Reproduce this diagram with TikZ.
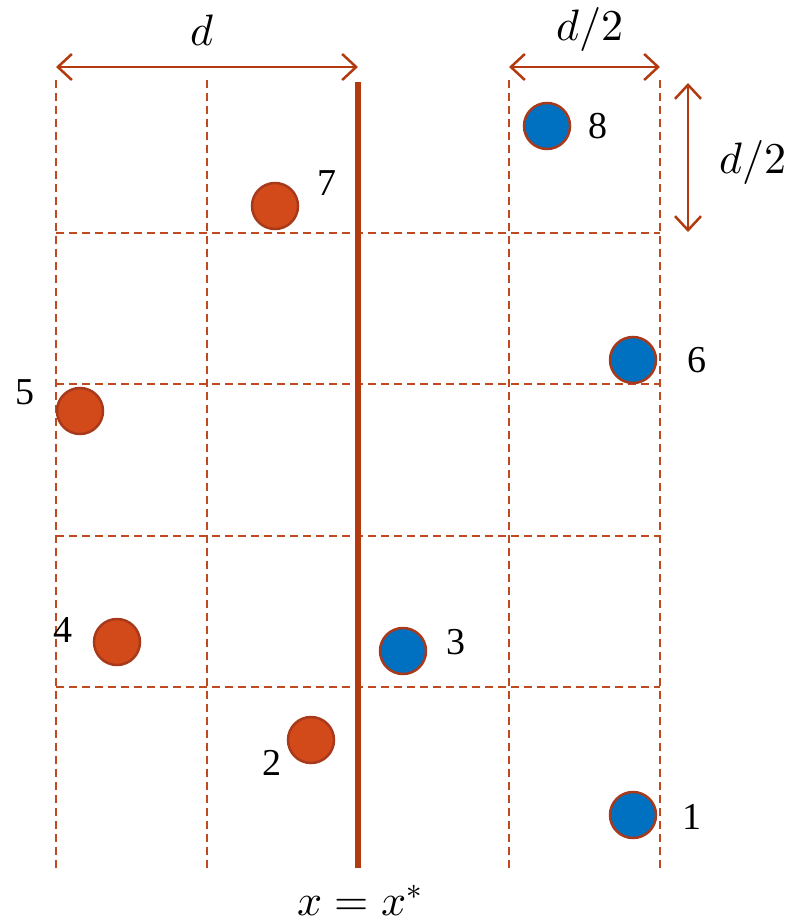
\documentclass[tikz,border=0pt]{standalone}
\usepackage{fontspec}
\usepackage{unicode-math}
\setmainfont{Liberation Serif}
\setmathfont{Latin Modern Math}
\usetikzlibrary{arrows.meta}
\definecolor{gridred}{HTML}{C04A20}
\definecolor{axisred}{HTML}{B33A0E}
\definecolor{ptred}{HTML}{D24A1A}
\definecolor{ptedge}{HTML}{A8391A}
\definecolor{ptblue}{HTML}{0070C0}
\tikzset{
  gridline/.style={draw=gridred, line width=1.6pt, dash pattern=on 8pt off 5pt},
  redpt/.style={circle, minimum size=46pt, inner sep=0pt, fill=ptred, draw=ptedge, line width=2.5pt},
  bluept/.style={circle, minimum size=46pt, inner sep=0pt, fill=ptblue, draw=ptedge, line width=2.5pt},
  lbl/.style={font=\fontsize{38}{44}\selectfont, inner sep=0pt},
  mlbl/.style={font=\fontsize{44}{50}\selectfont, inner sep=0pt},
  dimarrow/.style={draw=axisred, line width=2.5pt, {Straight Barb[length=14pt,width=26pt,line width=2.5pt]}-{Straight Barb[length=14pt,width=26pt,line width=2.5pt]}}
}
\begin{document}
\begin{tikzpicture}[x=1pt,y=-1pt]
\useasboundingbox (0,0) rectangle (798,923);
% vertical dashed lines
\foreach \x in {56,207,509,660} \draw[gridline] (\x,80) -- (\x,868);
% horizontal dashed lines
\foreach \y in {233,384,536,687} \draw[gridline] (56,\y) -- (660,\y);
% thick axis
\coordinate (axt) at (358,82);
\coordinate (axb) at (358,868);
\draw[draw=axisred, line width=5.5pt] (axt) -- (axb);
\node[mlbl] (xl) at (360,901) {$x=x^*$};
% dimension arrows
\coordinate (a1) at (56,67); \coordinate (a2) at (358,67);
\draw[dimarrow] (a1) -- (a2);
\node[mlbl] (dl) at (202,30) {$d$};
\coordinate (b1) at (509,67); \coordinate (b2) at (660,67);
\draw[dimarrow] (b1) -- (b2);
\node[mlbl] (dl2) at (590,30) {$d/2$};
\coordinate (c1) at (688,83); \coordinate (c2) at (688,232);
\draw[dimarrow] (c1) -- (c2);
\node[mlbl] (dl3) at (753,162) {$d/2$};
% points
\node[bluept] (p8) at (547,126) {};
\node[lbl] (l8) at (598,126) {8};
\node[redpt] (p7) at (275,206) {};
\node[lbl] (l7) at (327,183) {7};
\node[bluept] (p6) at (633,360) {};
\node[lbl] (l6) at (697,360) {6};
\node[redpt] (p5) at (80,411) {};
\node[lbl] (l5) at (25,392) {5};
\node[redpt] (p4) at (117,642) {};
\node[lbl] (l4) at (63,630) {4};
\node[bluept] (p3) at (403,651) {};
\node[lbl] (l3) at (456,642) {3};
\node[redpt] (p2) at (311,740) {};
\node[lbl] (l2) at (272,763) {2};
\node[bluept] (p1) at (633,815) {};
\node[lbl] (l1) at (692,817) {1};
\end{tikzpicture}
\end{document}
